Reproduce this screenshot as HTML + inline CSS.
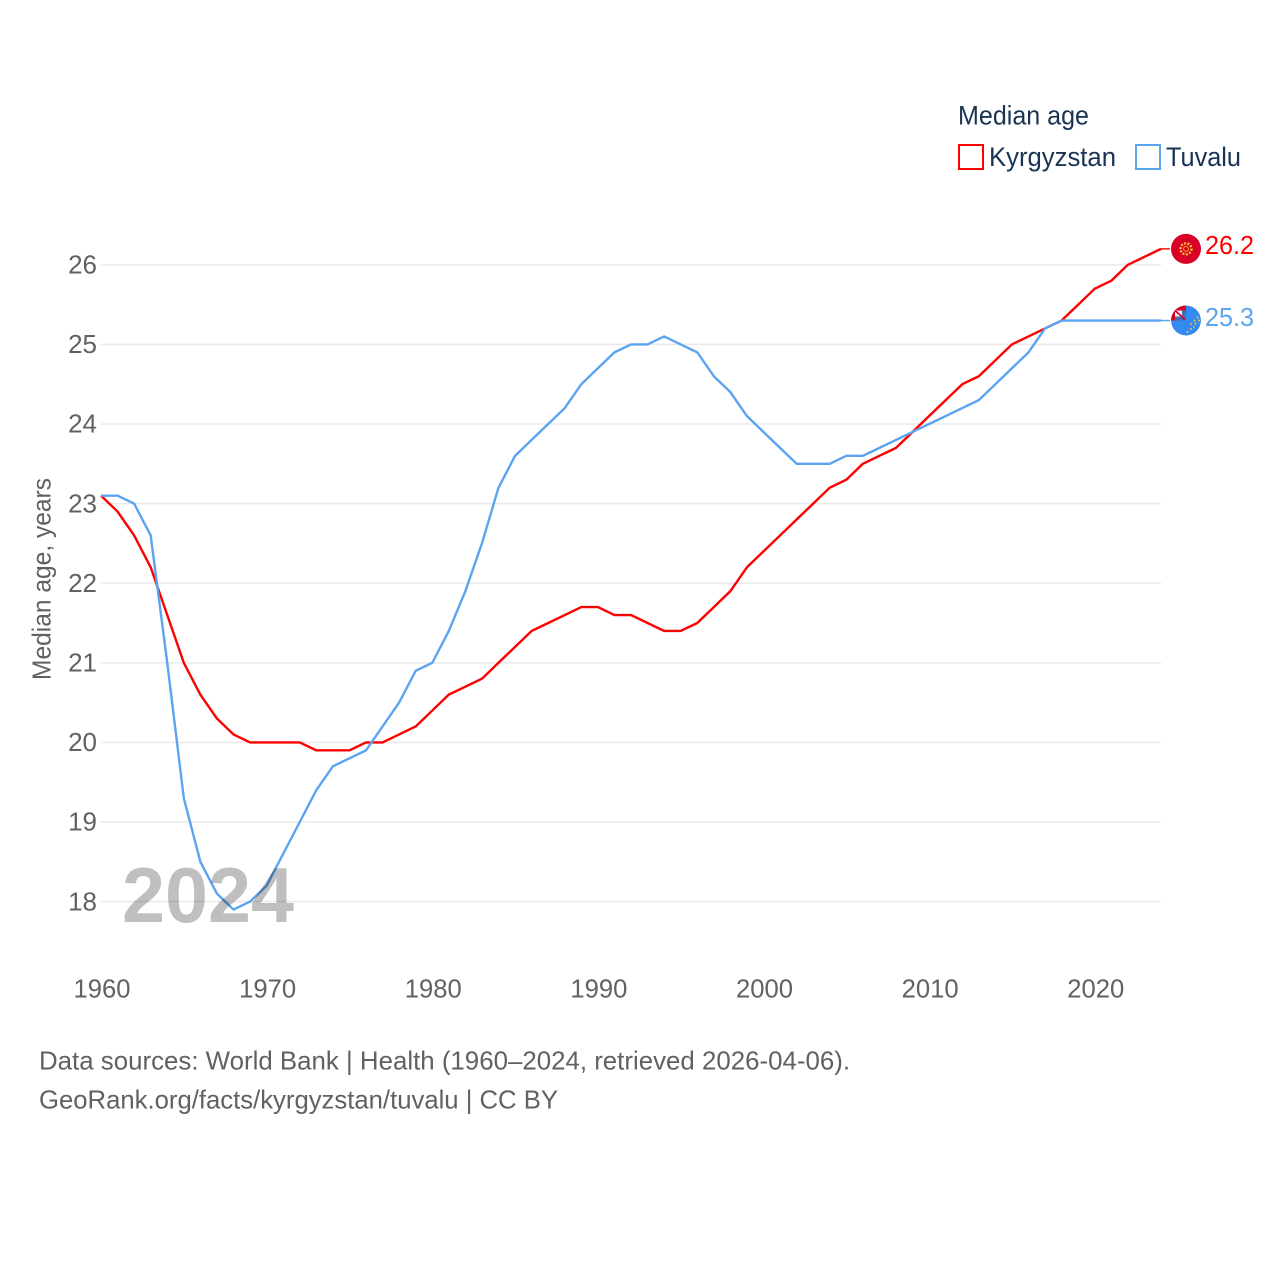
<!DOCTYPE html>
<html lang="en">
<head>
<meta charset="utf-8">
<title>Median age: Kyrgyzstan and Tuvalu</title>
<style>
html,body{margin:0;padding:0;background:#fff}
svg{display:block}
text{font-family:"Liberation Sans",sans-serif}
</style>
</head>
<body>
<svg id="chart" xmlns="http://www.w3.org/2000/svg" width="1280" height="1280" viewBox="0 0 1280 1280">
  <rect width="1280" height="1280" fill="#fff"/>
  <g id="grid"></g>
  <g id="yticks"></g>
  <g id="xticks"></g>
  <text transform="translate(50.5,680) rotate(-90)" font-size="26" fill="#616161" textLength="202" lengthAdjust="spacingAndGlyphs">Median age, years</text>
  <g id="series"></g>
  <text x="122" y="922" font-size="78" font-weight="700" fill="#000" fill-opacity="0.25" textLength="172" lengthAdjust="spacingAndGlyphs">2024</text>
  <g>
    <text x="958" y="124.5" font-size="27" fill="#1a3353" textLength="131" lengthAdjust="spacingAndGlyphs">Median age</text>
    <g>
      <rect x="959" y="145" width="24" height="24" fill="none" stroke="#ff0000" stroke-width="2"/>
      <text x="989" y="166" font-size="27" fill="#1a3353" textLength="127" lengthAdjust="spacingAndGlyphs">Kyrgyzstan</text>
    </g>
    <g>
      <rect x="1136" y="145" width="24" height="24" fill="none" stroke="#5ba4f0" stroke-width="2"/>
      <text x="1166" y="166" font-size="27" fill="#1a3353" textLength="75" lengthAdjust="spacingAndGlyphs">Tuvalu</text>
    </g>
  </g>
  <defs>
    <clipPath id="flag-clip-tv"><circle cx="0" cy="0" r="15"/></clipPath>
  </defs>
  <g id="flag-kg">
    <circle r="15" fill="#d80027"/>
    <circle r="5.5" fill="none" stroke="#f5c22e" stroke-width="2.4" stroke-dasharray="2 1.4"/>
    <circle r="2.4" fill="#d80027" stroke="#f5c22e" stroke-width="0.9"/>
  </g>
  <g id="flag-tv">
    <g clip-path="url(#flag-clip-tv)">
      <circle r="15" fill="#338af3"/>
      <rect x="-15" y="-15" width="15" height="15" fill="#d80027"/>
      <rect x="-11" y="-10" width="11" height="10" fill="#f0f0f0"/>
      <path d="M-11,-4 L-4,-4 L-4,-10 L0,-10 L0,0 L-11,0 Z" fill="#3f6fb5"/>
      <path d="M-11,-10 L-1,-1" stroke="#d80027" stroke-width="1.6"/>
      <g fill="#e8bf3a">
        <circle cx="11.5" cy="-3" r="1"/><circle cx="8.5" cy="0" r="1"/><circle cx="5" cy="3.5" r="1"/>
        <circle cx="13" cy="0" r="1"/><circle cx="9.5" cy="3" r="1"/><circle cx="5" cy="8.5" r="1"/>
        <circle cx="1.5" cy="11.5" r="1"/><circle cx="8" cy="6.5" r="0.9"/>
      </g>
    </g>
  </g>
  <text id="value-kg" x="1205" font-size="26" fill="#ff0000" textLength="49" lengthAdjust="spacingAndGlyphs"></text>
  <text id="value-tv" x="1205" font-size="26" fill="#5ba4f0" textLength="49" lengthAdjust="spacingAndGlyphs"></text>
  <g>
    <text x="39" y="1069.5" font-size="26" fill="#616161" textLength="811" lengthAdjust="spacingAndGlyphs">Data sources: World Bank | Health (1960–2024, retrieved 2026-04-06).</text>
    <text x="39" y="1108.5" font-size="26" fill="#616161" textLength="519" lengthAdjust="spacingAndGlyphs">GeoRank.org/facts/kyrgyzstan/tuvalu | CC BY</text>
  </g>
</svg>
<script>
const years = [1960,1961,1962,1963,1964,1965,1966,1967,1968,1969,1970,1971,1972,1973,1974,1975,1976,1977,1978,1979,1980,1981,1982,1983,1984,1985,1986,1987,1988,1989,1990,1991,1992,1993,1994,1995,1996,1997,1998,1999,2000,2001,2002,2003,2004,2005,2006,2007,2008,2009,2010,2011,2012,2013,2014,2015,2016,2017,2018,2019,2020,2021,2022,2023,2024];
const kyrgyzstan = [23.1,22.9,22.6,22.2,21.6,21.0,20.6,20.3,20.1,20.0,20.0,20.0,20.0,19.9,19.9,19.9,20.0,20.0,20.1,20.2,20.4,20.6,20.7,20.8,21.0,21.2,21.4,21.5,21.6,21.7,21.7,21.6,21.6,21.5,21.4,21.4,21.5,21.7,21.9,22.2,22.4,22.6,22.8,23.0,23.2,23.3,23.5,23.6,23.7,23.9,24.1,24.3,24.5,24.6,24.8,25.0,25.1,25.2,25.3,25.5,25.7,25.8,26.0,26.1,26.2];
const tuvalu = [23.1,23.1,23.0,22.6,21.0,19.3,18.5,18.1,17.9,18.0,18.2,18.6,19.0,19.4,19.7,19.8,19.9,20.2,20.5,20.9,21.0,21.4,21.9,22.5,23.2,23.6,23.8,24.0,24.2,24.5,24.7,24.9,25.0,25.0,25.1,25.0,24.9,24.6,24.4,24.1,23.9,23.7,23.5,23.5,23.5,23.6,23.6,23.7,23.8,23.9,24.0,24.1,24.2,24.3,24.5,24.7,24.9,25.2,25.3,25.3,25.3,25.3,25.3,25.3,25.3];
const yTickValues = [18,19,20,21,22,23,24,25,26];
const xTickValues = [1960,1970,1980,1990,2000,2010,2020];

const SVG_NS = 'http://www.w3.org/2000/svg';
function xScale(year) { return 101 + (year - 1960) * (1060 / 64); }
function yScale(v) { return 901.6 - (v - 18) * (636.8 / 8); }
function make(tag, attrs, parent) {
  const el = document.createElementNS(SVG_NS, tag);
  for (const k in attrs) el.setAttribute(k, attrs[k]);
  parent.appendChild(el);
  return el;
}

const gridGroup = document.getElementById('grid');
const yGroup = document.getElementById('yticks');
yTickValues.forEach(function (v) {
  const line = make('line', {x1: 101, x2: 1161, y1: yScale(v), y2: yScale(v), stroke: '#ebebeb', 'stroke-width': 1.6}, gridGroup);
  
  
  const label = make('text', {x: 97, y: yScale(v) + 8.7, 'text-anchor': 'end', 'font-size': 26, fill: '#616161'}, yGroup);
  
  
  label.textContent = v;
});

const xGroup = document.getElementById('xticks');
xTickValues.forEach(function (year) {
  const label = make('text', {x: xScale(year) + 1, y: 997.5, 'text-anchor': 'middle', 'font-size': 26, fill: '#616161', textLength: 57, lengthAdjust: 'spacingAndGlyphs'}, xGroup);
  
  
  label.textContent = year;
});

function buildPoints(values) {
  return values.map(function (v, i) {
    return xScale(years[i]).toFixed(2) + ',' + yScale(v).toFixed(2);
  }).join(' ');
}

const seriesGroup = document.getElementById('series');
const flagX = 1186;
const leaderEndX = 1170;
const kgLast = kyrgyzstan[kyrgyzstan.length - 1];
const tvLast = tuvalu[tuvalu.length - 1];

const kgLine = make('polyline', {points: buildPoints(kyrgyzstan), fill: 'none', stroke: '#ff0000', 'stroke-width': 2.4, 'stroke-linejoin': 'round'}, seriesGroup);


const kgLead = make('line', {x1: xScale(2024), x2: leaderEndX, y1: yScale(kgLast), y2: yScale(kgLast), stroke: '#ff0000', 'stroke-width': 1.4}, seriesGroup);



const tvLine = make('polyline', {points: buildPoints(tuvalu), fill: 'none', stroke: '#5ba4f0', 'stroke-width': 2.4, 'stroke-linejoin': 'round'}, seriesGroup);


const tvLead = make('line', {x1: xScale(2024), x2: leaderEndX, y1: yScale(tvLast), y2: yScale(tvLast), stroke: '#5ba4f0', 'stroke-width': 1.4}, seriesGroup);



document.getElementById('flag-kg').setAttribute('transform', 'translate(' + flagX + ',' + yScale(kgLast) + ')');
document.getElementById('flag-tv').setAttribute('transform', 'translate(' + flagX + ',' + yScale(tvLast) + ')');

const kgValue = document.getElementById('value-kg');
kgValue.setAttribute('y', yScale(kgLast) + 5.3);
kgValue.textContent = kgLast.toFixed(1);
const tvValue = document.getElementById('value-tv');
tvValue.setAttribute('y', yScale(tvLast) + 5.3);
tvValue.textContent = tvLast.toFixed(1);
</script>
</body>
</html>
